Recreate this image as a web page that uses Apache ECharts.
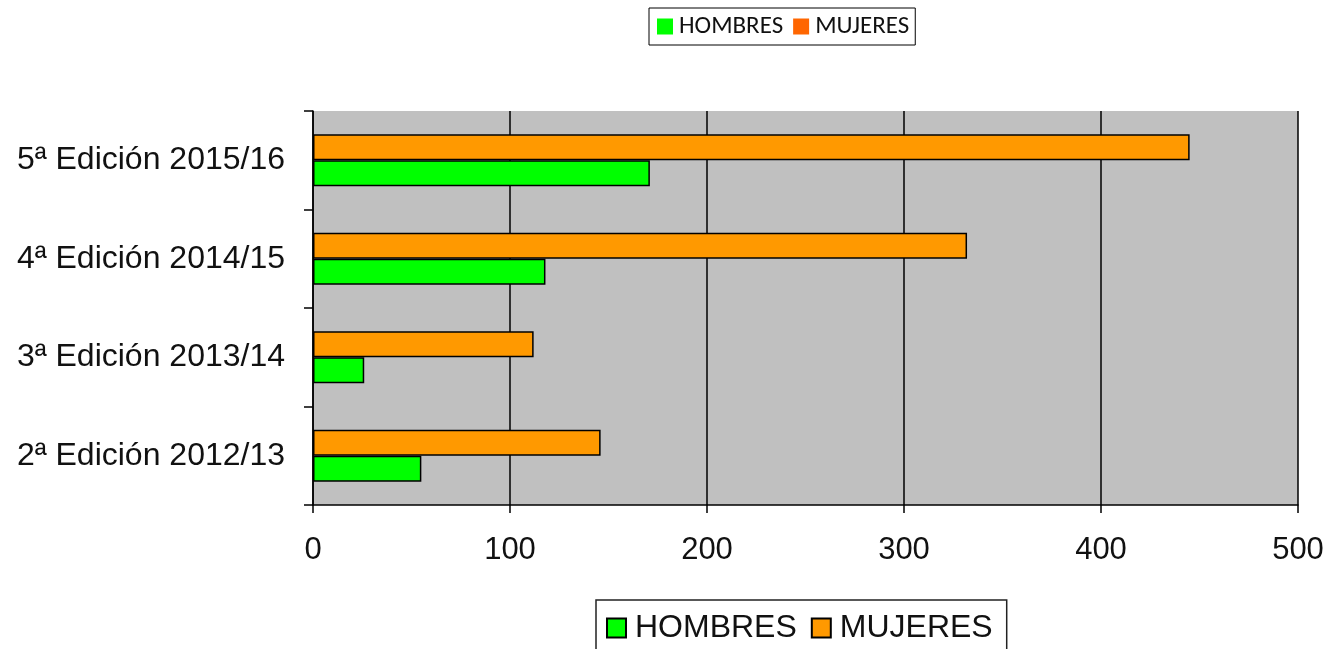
<!DOCTYPE html>
<html>
<head>
<meta charset="utf-8">
<script src="https://cdn.jsdelivr.net/npm/echarts@6/dist/echarts.min.js"></script>
<style>
  html, body { margin: 0; padding: 0; background: #fff; }
  #chart { width: 1330px; height: 649px; }
</style>
</head>
<body>
<div id="chart"></div>
<script>
// Editions (bottom to top)
const categories = ['2ª Edición 2012/13', '3ª Edición 2013/14', '4ª Edición 2014/15', '5ª Edición 2015/16'];
const hombres = [55, 26, 118, 171];
const mujeres = [146, 112, 332, 445];
const xTicks = [0, 100, 200, 300, 400, 500];

const GREEN = '#00ff00';
const ORANGE = '#ff9900';

const chart = echarts.init(document.getElementById('chart'));

chart.setOption({
  animation: false,
  textStyle: { fontFamily: 'Liberation Sans, Arial, sans-serif' },
  grid: {
    left: 313,
    right: 32,
    top: 111,
    bottom: 144,
    show: true,
    backgroundColor: '#c0c0c0',
    borderWidth: 0
  },
  legend: [
    {
      // small legend at the top
      top: 8,
      left: 649,
      padding: [6, 6, 6, 8],
      itemGap: 10,
      itemWidth: 16,
      itemHeight: 16,
      borderColor: '#000',
      borderWidth: 1,
      textStyle: { fontFamily: 'Carlito, Liberation Sans, sans-serif', fontSize: 25, color: '#111', padding: [0, 0, 0, 1] },
      data: [
        { name: 'HOMBRES', icon: 'rect', itemStyle: { color: GREEN, borderWidth: 0 } },
        { name: 'MUJERES', icon: 'rect', itemStyle: { color: '#ff6600', borderWidth: 0 } }
      ]
    },
    {
      // large legend at the bottom
      top: 600,
      left: 596,
      padding: [12, 14, 12, 10],
      itemGap: 14,
      itemWidth: 19,
      itemHeight: 19,
      borderColor: '#222',
      borderWidth: 1.5,
      textStyle: { fontSize: 32, color: '#111', padding: [0, 0, 0, 4] },
      data: [
        { name: 'HOMBRES', icon: 'rect' },
        { name: 'MUJERES', icon: 'rect' }
      ]
    }
  ],
  xAxis: {
    type: 'value',
    min: xTicks[0],
    max: xTicks[xTicks.length - 1],
    interval: 100,
    axisLine: { show: true, lineStyle: { color: '#000', width: 1.5 } },
    axisTick: { show: true, length: 8, lineStyle: { color: '#000', width: 1.5 } },
    axisLabel: { fontSize: 31, color: '#111', margin: 30 },
    splitLine: { show: true, lineStyle: { color: '#000', width: 1.5 } }
  },
  yAxis: {
    type: 'category',
    data: categories,
    axisLine: { show: true, lineStyle: { color: '#000', width: 1.5 } },
    axisTick: { show: true, length: 9, lineStyle: { color: '#000', width: 1.5 } },
    axisLabel: { fontSize: 32, color: '#111', margin: 28 }
  },
  // MUJERES listed first so its bars sit above HOMBRES in each band
  series: [
    {
      name: 'MUJERES',
      type: 'bar',
      data: mujeres,
      barWidth: 26,
      barGap: '0%',
      itemStyle: { color: ORANGE, borderColor: '#000', borderWidth: 1.5 }
    },
    {
      name: 'HOMBRES',
      type: 'bar',
      data: hombres,
      barWidth: 26,
      barGap: '0%',
      itemStyle: { color: GREEN, borderColor: '#000', borderWidth: 1.5 }
    }
  ]
});
</script>
</body>
</html>
